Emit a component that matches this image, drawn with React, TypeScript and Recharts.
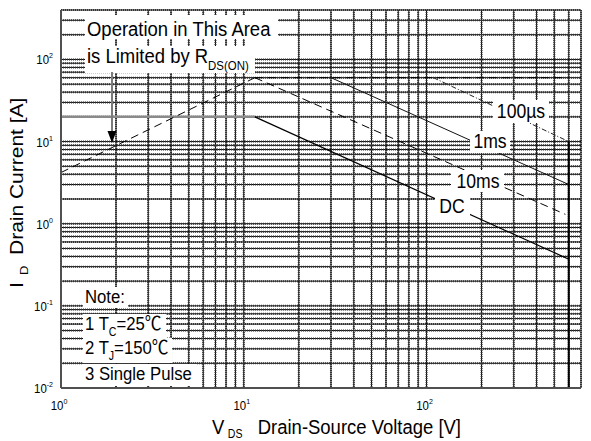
import React from 'react';
import { LineChart, Line, XAxis, YAxis, CartesianGrid } from 'recharts';

// ticks (log axes, every 1..9 per decade)
const xTicks = [1, 2, 3, 4, 5, 6, 7, 8, 9, 10, 20, 30, 40, 50, 60, 70, 80, 90, 100, 200, 300, 400, 500, 600, 700];
const yTicks = [
  0.01, 0.02, 0.03, 0.04, 0.05, 0.06, 0.07, 0.08, 0.09,
  0.1, 0.2, 0.3, 0.4, 0.5, 0.6, 0.7, 0.8, 0.9,
  1, 2, 3, 4, 5, 6, 7, 8, 9,
  10, 20, 30, 40, 50, 60, 70, 80, 90,
  100, 200, 300, 400,
];

// SOA boundary segments: V_DS [V] and I_D [A]
const rdsV = [1, 11.5];
const rdsI = [4.2, 60];
const idmV = [11.5, 560];
const idmI = [60, 60];
const us100V = [109, 600];
const us100I = [60, 10];
const ms1V = [30, 600];
const ms1I = [60, 3];
const ms10V = [11.5, 575];
const ms10I = [60, 1.3];
const dcFlatV = [1, 11.5];
const dcFlatI = [20, 20];
const dcV = [11.5, 600];
const dcI = [20, 0.37];
const vdssV = [600, 600];
const vdssI = [10, 0.01];

const pts = (v: number[], i: number[]) => v.map((x, k) => ({ v: x, i: i[k] }));

const FONT = '"Liberation Sans", Arial, "Noto Sans CJK SC", sans-serif';
const SQ = 'scale(0.88,1)';

const isDecade = (v: number) => Math.abs(Math.log10(v) - Math.round(Math.log10(v))) < 1e-6;

function XTick({ x, y, payload }: any) {
  const v = payload.value;
  if (!isDecade(v)) return <g />;
  return (
    <g transform={`translate(${x - 2},${y + 22}) ${SQ}`}>
      <text textAnchor="middle" fontSize={13} fontFamily={FONT} fill="#000">
        10<tspan dy={-6} fontSize={8}>{Math.round(Math.log10(v))}</tspan>
      </text>
    </g>
  );
}

function YTick({ x, y, payload }: any) {
  const v = payload.value;
  if (!isDecade(v)) return <g />;
  return (
    <g transform={`translate(${x - 8},${y + 5}) ${SQ}`}>
      <text textAnchor="end" fontSize={13} fontFamily={FONT} fill="#000">
        10<tspan dy={-6} fontSize={8}>{Math.round(Math.log10(v))}</tspan>
      </text>
    </g>
  );
}

// text with a white box behind it (box in page px, text squeezed like the scan)
function Boxed({ x, y, box, size, anchor = 'start', children }: any) {
  return (
    <g>
      <rect x={box[0]} y={box[1]} width={box[2]} height={box[3]} fill="#fff" />
      <g transform={`translate(${x},${y}) ${SQ}`}>
        <text fontSize={size} textAnchor={anchor} fontFamily={FONT} fill="#000" style={{ whiteSpace: 'pre' }}>
          {children}
        </text>
      </g>
    </g>
  );
}

function Notes() {
  return (
    <svg width={591} height={441} style={{ position: 'absolute', left: 0, top: 0, pointerEvents: 'none' }}>
      {/* R_DS(on) note + arrow */}
      <Boxed x={87} y={36} size={21} box={[85, 15, 193, 24]}>Operation in This Area</Boxed>
      <Boxed x={87} y={63} size={21} box={[85, 46, 170, 27]}>
        is Limited by R<tspan dy={7} fontSize={13}>DS(ON)</tspan>
      </Boxed>
      <line x1={112} y1={72} x2={112} y2={132} stroke="#7a7a7a" strokeWidth={2} />
      <polygon points="107.5,131 116.5,131 112,143" fill="#000" />

      {/* curve labels */}
      <Boxed x={521} y={118} size={20} anchor="middle" box={[493, 100, 56, 23]}>100µs</Boxed>
      <Boxed x={490} y={148} size={20} anchor="middle" box={[470, 131, 40, 22]}>1ms</Boxed>
      <Boxed x={478} y={188} size={20} anchor="middle" box={[451, 170, 53, 22]}>10ms</Boxed>
      <Boxed x={452} y={213} size={20} anchor="middle" box={[435, 195, 35, 22]}>DC</Boxed>

      {/* conditions */}
      <Boxed x={85} y={303} size={19} box={[83, 287, 45, 21]}>Note:</Boxed>
      <Boxed x={85} y={330} size={19} box={[83, 314, 83, 25]}>
        1 T<tspan dy={6} fontSize={12}>C</tspan><tspan dy={-6}>=25℃</tspan>
      </Boxed>
      <Boxed x={85} y={354} size={19} box={[83, 338, 89, 25]}>
        2 T<tspan dy={6} fontSize={12}>J</tspan><tspan dy={-6}>=150℃</tspan>
      </Boxed>
      <Boxed x={85} y={380} size={19} box={[83, 364, 114, 22]}>3 Single Pulse</Boxed>

      {/* axis titles */}
      <g transform={`translate(212,434) ${SQ}`} fontFamily={FONT} fill="#000">
        <text fontSize={21}>V</text>
        <text x={18} y={4} fontSize={12}>DS</text>
        <text x={52} fontSize={21}>Drain-Source Voltage [V]</text>
      </g>
      <g transform={`translate(23,288) ${SQ} rotate(-90)`} fontFamily={FONT} fill="#000">
        <text fontSize={21}>I</text>
        <text x={13} y={6} fontSize={13}>D</text>
        <text x={33} fontSize={21}>Drain Current [A]</text>
      </g>
    </svg>
  );
}

export default function App() {
  return (
    <div style={{ position: 'absolute', left: 0, top: 0, width: 591, height: 441, background: '#fff' }}>
      <LineChart width={591} height={441} margin={{ top: 10, right: 10, bottom: 0, left: 0 }}>
        {/* scanned grid: solid black line with a dotted shadow */}
        <CartesianGrid stroke="#000" strokeWidth={1} />
        <CartesianGrid stroke="#333" strokeWidth={2} strokeDasharray="1 1" />
        <XAxis
          type="number"
          dataKey="v"
          scale="log"
          domain={[1, 700]}
          ticks={xTicks}
          interval={0}
          allowDataOverflow
          height={53}
          tickSize={0}
          tickMargin={0}
          tickLine={false}
          axisLine={{ stroke: '#505050', strokeWidth: 2 }}
          tick={<XTick />}
        />
        <YAxis
          type="number"
          dataKey="i"
          scale="log"
          domain={[0.01, 400]}
          ticks={yTicks}
          interval={0}
          allowDataOverflow
          width={61}
          tickSize={0}
          tickMargin={0}
          tickLine={false}
          axisLine={{ stroke: '#505050', strokeWidth: 2 }}
          tick={<YTick />}
        />
        <Line data={pts(dcFlatV, dcFlatI)} dataKey="i" stroke="#8a8a8a" strokeWidth={2.5} dot={false} isAnimationActive={false} />
        <Line data={pts(rdsV, rdsI)} dataKey="i" stroke="#000" strokeWidth={1} strokeDasharray="8 5" dot={false} isAnimationActive={false} />
        <Line data={pts(idmV, idmI)} dataKey="i" stroke="#000" strokeWidth={1} strokeDasharray="8 5" dot={false} isAnimationActive={false} />
        <Line data={pts(us100V, us100I)} dataKey="i" stroke="#222" strokeWidth={1} strokeDasharray="5 2 1 2" dot={false} isAnimationActive={false} />
        <Line data={pts(ms1V, ms1I)} dataKey="i" stroke="#111" strokeWidth={1} dot={false} isAnimationActive={false} />
        <Line data={pts(ms10V, ms10I)} dataKey="i" stroke="#000" strokeWidth={1} strokeDasharray="8 5" dot={false} isAnimationActive={false} />
        <Line data={pts(dcV, dcI)} dataKey="i" stroke="#000" strokeWidth={1.2} dot={false} isAnimationActive={false} />
        <Line data={pts(vdssV, vdssI)} dataKey="i" stroke="#000" strokeWidth={2} dot={false} isAnimationActive={false} />
      </LineChart>
      <Notes />
    </div>
  );
}
